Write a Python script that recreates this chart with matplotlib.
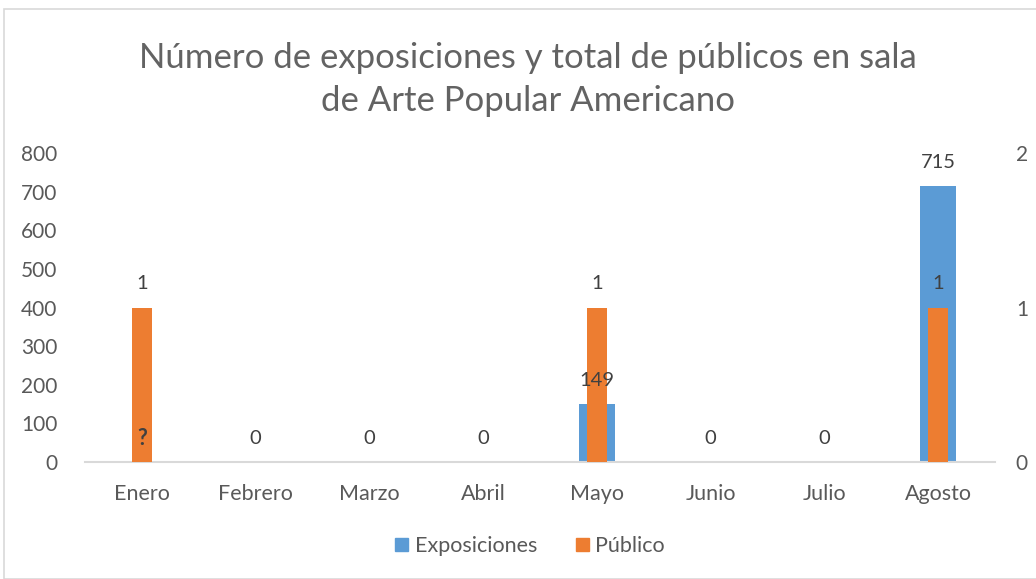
import numpy as np
import matplotlib.pyplot as plt
from matplotlib.patches import Rectangle

months = ['Enero', 'Febrero', 'Marzo', 'Abril', 'Mayo', 'Junio', 'Julio', 'Agosto']
exposiciones = [0, 0, 0, 0, 149, 0, 0, 715]
exp_labels = ['?', '0', '0', '0', '149', '0', '0', '715']
publico = [1, 0, 0, 0, 1, 0, 0, 1]

plt.rcParams['font.family'] = ['Lato', 'DejaVu Sans']
blue = '#5b9bd5'
orange = '#ed7d31'
txt = '#595959'

fig = plt.figure(figsize=(10.36, 5.79), dpi=100)
W, H = 1036, 579
ax = fig.add_axes([85 / W, (H - 462) / H, 910 / W, 309 / H])
ax2 = ax.twinx()

x = np.arange(len(months))
ax.bar(x, exposiciones, width=0.316, color=blue, zorder=2)
ax2.bar(x, publico, width=0.175, color=orange, zorder=3)

ax.set_xlim(-0.5, 7.5)
ax.set_ylim(0, 800)
ax2.set_ylim(0, 2)
ax.set_yticks(range(0, 801, 100))
ax2.set_yticks([0, 1, 2])

for a in (ax, ax2):
    for s in a.spines.values():
        s.set_visible(False)
    a.tick_params(length=0, labelsize=15, labelcolor=txt)
ax.spines['bottom'].set_visible(True)
ax.spines['bottom'].set_color('#d9d9d9')
ax.spines['bottom'].set_linewidth(1.5)
ax.tick_params(axis='y', pad=20)
ax2.tick_params(axis='y', pad=15)
ax.tick_params(axis='x', pad=16, labelsize=15.5)
ax.set_xticks(x)
ax.set_xticklabels(months)

# data labels drawn on the top axes so they sit over the bars
for i, (v, lab) in enumerate(zip(exposiciones, exp_labels)):
    ax2.annotate(lab, (x[i], v), xycoords=ax.transData, xytext=(0, 17),
                 textcoords='offset points', ha='center', va='center',
                 fontsize=15.5 if lab == '?' else 14.5,
                 color='#404040', fontweight='bold' if lab == '?' else 'normal', zorder=5)
for i, v in enumerate(publico):
    if v:
        ax2.annotate(str(v), (x[i], v), xytext=(0, 17), textcoords='offset points',
                     ha='center', va='center', fontsize=14.5, color='#404040', zorder=5)

fig.text(528 / W, 1 - 58 / H, 'Número de exposiciones y total de públicos en sala',
         ha='center', va='center', fontsize=25, color='#636363')
fig.text(528 / W, 1 - 101 / H, 'de Arte Popular Americano',
         ha='center', va='center', fontsize=25, color='#636363')

handles = [Rectangle((0, 0), 1, 1, color=blue), Rectangle((0, 0), 1, 1, color=orange)]
fig.legend(handles, ['Exposiciones', 'Público'], loc='center', bbox_to_anchor=(530 / W, 1 - 546 / H),
           ncol=2, frameon=False, fontsize=15.5, labelcolor=txt, handlelength=0.6, handleheight=0.6,
           handletextpad=0.3, columnspacing=1.8)

fig.add_artist(Rectangle((4 / W, 0), 1, 1 - 9 / H, transform=fig.transFigure,
                         fill=False, edgecolor='#d9d9d9', linewidth=1.2))

fig.savefig('out.png', dpi=100)
